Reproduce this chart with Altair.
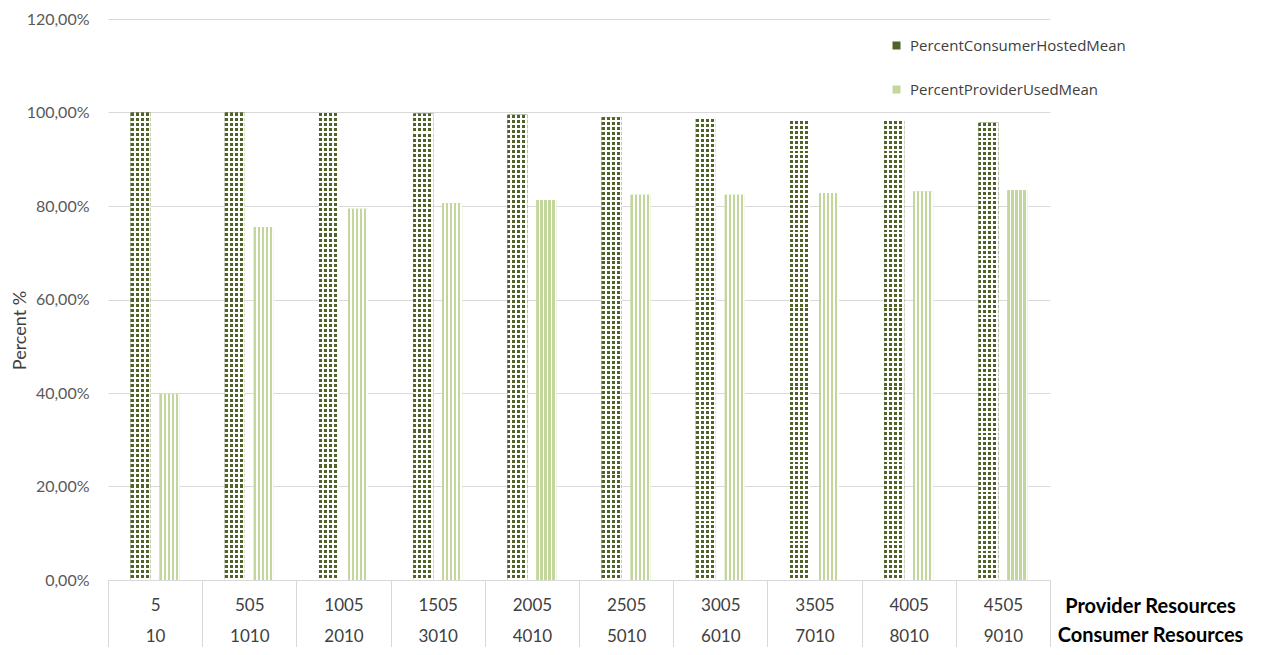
import altair as alt
import pandas as pd

# ---- data ----
provider = ["5", "505", "1005", "1505", "2005", "2505", "3005", "3505", "4005", "4505"]
consumer = ["10", "1010", "2010", "3010", "4010", "5010", "6010", "7010", "8010", "9010"]
hosted_mean = [1.000, 1.000, 0.999, 0.998, 0.995, 0.990, 0.986, 0.982, 0.982, 0.978]
used_mean = [0.398, 0.755, 0.794, 0.806, 0.813, 0.824, 0.824, 0.828, 0.831, 0.834]
series_names = ["PercentConsumerHostedMean", "PercentProviderUsedMean"]
y_ticks = [0.0, 0.2, 0.4, 0.6, 0.8, 1.0, 1.2]

rows = []
for p, c, h, u in zip(provider, consumer, hosted_mean, used_mean):
    cat = p + "|" + c
    rows.append({"cat": cat, "series": series_names[0], "value": h})
    rows.append({"cat": cat, "series": series_names[1], "value": u})
df = pd.DataFrame(rows)
cats = [p + "|" + c for p, c in zip(provider, consumer)]

DARK = "#4f6228"
LIGHT = "#c3d69b"


def stripes(n, c1, c2, frac, horizontal):
    stops = []
    for i in range(n):
        a = i / n
        b = (i + frac) / n
        c = (i + 1) / n
        stops += [
            alt.GradientStop(offset=a, color=c1),
            alt.GradientStop(offset=b, color=c1),
            alt.GradientStop(offset=b, color=c2),
            alt.GradientStop(offset=min(c, 1.0), color=c2),
        ]
    if horizontal:
        return alt.LinearGradient(gradient="linear", stops=stops, x1=0, x2=0, y1=0, y2=1)
    return alt.LinearGradient(gradient="linear", stops=stops, x1=0, x2=1, y1=0, y2=0)


x_enc = alt.X(
    "cat:N",
    sort=cats,
    scale=alt.Scale(domain=cats, paddingInner=0, paddingOuter=0),
    axis=alt.Axis(
        title=["Provider Resources", "Consumer Resources"],
        titleFontWeight="bold",
        titleFontSize=20,
        titleColor="#000000",
        titleFont="Lato",
        titleX=1042,
        titleY=16,
        titleAlign="center",
        titleBaseline="top",
        titleLineHeight=29,
        labelAngle=0,
        labelExpr="split(datum.label, '|')",
        labelFont="Lato",
        labelFontSize=17,
        labelColor="#404040",
        labelLineHeight=31,
        labelPadding=-58,
        labelBaseline="top",
        ticks=True,
        tickBand="extent",
        tickSize=75,
        tickColor="#d9d9d9",
        domainColor="#d9d9d9",
        grid=False,
    ),
)
xoff_enc = alt.XOffset(
    "series:N",
    scale=alt.Scale(domain=series_names, paddingInner=0.31, paddingOuter=0.78),
)
y_enc = alt.Y(
    "value:Q",
    scale=alt.Scale(domain=[0, 1.2], nice=False),
    axis=alt.Axis(
        values=y_ticks,
        labelExpr="replace(format(datum.value, '.2%'), '.', ',')",
        title="Percent %",
        titleFont="Lato",
        titleFontSize=18,
        titleFontWeight="normal",
        titleColor="#404040",
        titleX=-88,
        titleY=311,
        titleAlign="center",
        titleBaseline="middle",
        labelFont="Lato",
        labelFontSize=16,
        labelColor="#595959",
        labelPadding=19,
        ticks=False,
        domain=False,
        grid=True,
        gridColor="#d9d9d9",
        gridWidth=1,
    ),
)

base = alt.Chart(df).mark_bar().encode(
    x=x_enc,
    xOffset=xoff_enc,
    y=y_enc,
    color=alt.Color(
        "series:N",
        scale=alt.Scale(domain=series_names, range=[DARK, LIGHT]),
        legend=alt.Legend(
            title=None,
            orient="none",
            legendX=781,
            legendY=19,
            padding=0,
            rowPadding=28,
            symbolType="square",
            symbolSize=64,
            symbolStrokeWidth=0,
            labelFont="Open Sans",
            labelFontSize=15,
            labelColor="#404040",
            labelLimit=0,
            labelOffset=6,
        ),
    ),
)

ox = alt.X("cat:N", sort=cats)
oy = alt.Y("value:Q")
oxo = alt.XOffset("series:N")

cons_rows = (
    alt.Chart(df)
    .transform_filter(alt.datum.series == series_names[0])
    .mark_bar(fill=stripes(93, DARK, "#ffffff", 0.6, True), strokeWidth=0)
    .encode(x=ox, xOffset=oxo, y=oy)
)
cons_cols = (
    alt.Chart(df)
    .transform_filter(alt.datum.series == series_names[0])
    .mark_bar(fill=stripes(4, "rgba(255,255,255,0)", "#ffffff", 0.6, False), strokeWidth=0)
    .encode(x=ox, xOffset=oxo, y=oy)
)
prov_stripes = (
    alt.Chart(df)
    .transform_filter(alt.datum.series == series_names[1])
    .mark_bar(fill=stripes(5, LIGHT, "#ffffff", 0.55, False), strokeWidth=0)
    .encode(x=ox, xOffset=oxo, y=oy)
)

chart = (
    alt.layer(base, cons_rows, cons_cols, prov_stripes)
    .properties(
        width=942,
        height=561,
        background="#ffffff",
        autosize=alt.AutoSizeParams(type="none"),
        padding={"left": 100, "top": 11, "right": 207, "bottom": 67},
    )
    .configure_view(strokeWidth=0, stroke="transparent")
)

chart.save("out.html", embed_options={"renderer": "svg", "actions": False})
